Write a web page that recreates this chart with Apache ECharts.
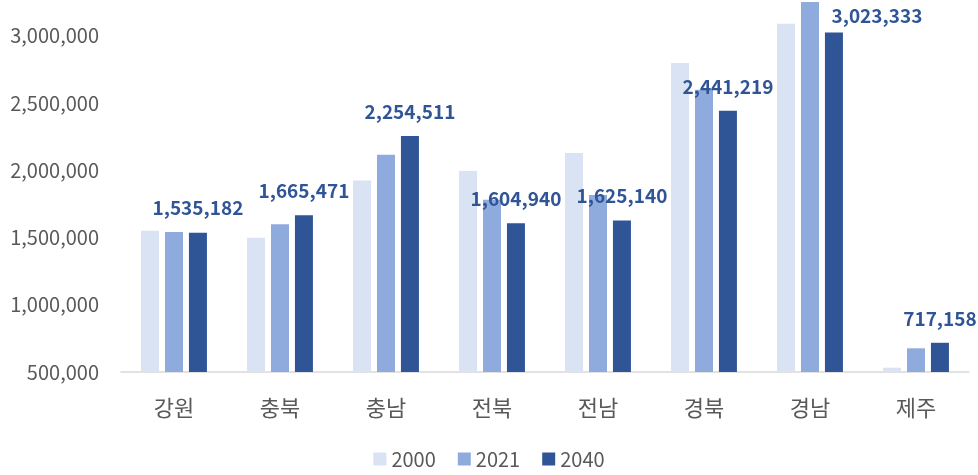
<!DOCTYPE html>
<html>
<head>
<meta charset="utf-8">
<script src="https://cdn.jsdelivr.net/npm/echarts@6/dist/echarts.min.js"></script>
<style>
  html, body { margin: 0; padding: 0; background: #fff; }
  #chart { width: 978px; height: 475px; }
</style>
</head>
<body>
<div id="chart"></div>
<script>
// 지역별 인구 (2000 / 2021 / 2040)
var regions = ['강원', '충북', '충남', '전북', '전남', '경북', '경남', '제주'];
var years = ['2000', '2021', '2040'];
var pop2000 = [1550000, 1497000, 1923000, 1993000, 2128000, 2797000, 3088000, 532000];
var pop2021 = [1540000, 1599000, 2115000, 1780000, 1815000, 2598000, 3314000, 676000];
var pop2040 = [1535182, 1665471, 2254511, 1604940, 1625140, 2441219, 3023333, 717158];
var colors = ['#DAE3F3', '#8FAADC', '#2F5597'];

var myChart = echarts.init(document.getElementById('chart'));

var font = '"Noto Sans CJK KR", "Noto Sans", sans-serif';

// 2040 라벨: 경남만 오른쪽으로 밀어둠
var data2040 = pop2040.map(function (v, i) {
  if (regions[i] === '경남') {
    return { value: v, label: { offset: [43, 8] } };
  }
  return v;
});

var option = {
  animation: false,
  grid: { left: 121, right: 9, top: 2, bottom: 103 },
  legend: {
    bottom: 1,
    left: 'center',
    itemWidth: 13,
    itemHeight: 13,
    itemGap: 22,
    icon: 'rect',
    data: years,
    textStyle: { color: '#595959', fontSize: 20, fontFamily: font }
  },
  xAxis: {
    type: 'category',
    data: regions,
    axisLine: { lineStyle: { color: '#D9D9D9', width: 1.5 } },
    axisTick: { show: false },
    axisLabel: { color: '#595959', fontSize: 22, margin: 25, fontFamily: font }
  },
  yAxis: {
    type: 'value',
    min: 500000,
    max: 3250000,
    interval: 500000,
    splitLine: { show: false },
    axisLine: { show: false },
    axisTick: { show: false },
    axisLabel: {
      color: '#595959',
      fontSize: 20,
      margin: 22,
      fontFamily: font,
      showMaxLabel: false,
      formatter: function (v) { return v.toLocaleString('en-US'); }
    }
  },
  series: [
    {
      name: '2000',
      type: 'bar',
      barWidth: 18,
      barGap: '33%',
      itemStyle: { color: colors[0] },
      data: pop2000
    },
    {
      name: '2021',
      type: 'bar',
      barWidth: 18,
      barGap: '33%',
      itemStyle: { color: colors[1] },
      data: pop2021
    },
    {
      name: '2040',
      type: 'bar',
      barWidth: 18,
      barGap: '33%',
      itemStyle: { color: colors[2] },
      label: {
        show: true,
        position: 'top',
        distance: 15,
        color: '#2F5597',
        fontWeight: 'bold',
        fontSize: 19,
        fontFamily: font,
        formatter: function (p) { return p.value.toLocaleString('en-US'); }
      },
      data: data2040
    }
  ]
};

myChart.setOption(option, true);
</script>
</body>
</html>
